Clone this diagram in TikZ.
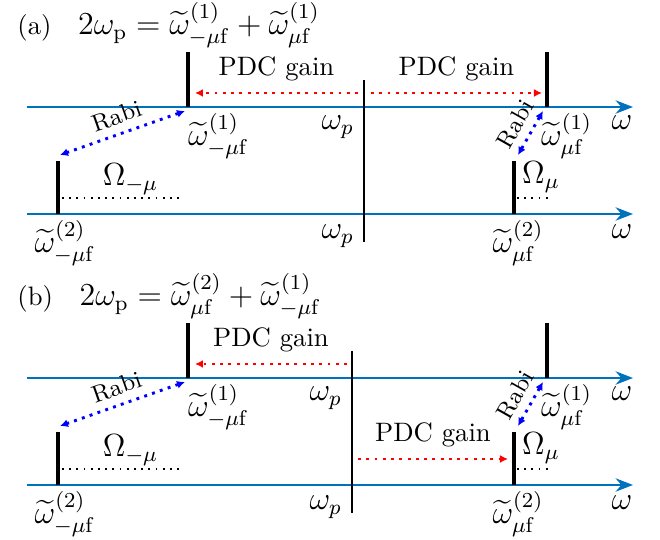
\documentclass[tikz,border=0pt]{standalone}
\usepackage{amsmath,amssymb}
\usepackage{tikz}
\usetikzlibrary{arrows.meta,positioning}
\definecolor{axisblue}{HTML}{0072BD}
\definecolor{gainred}{HTML}{FF0000}
\definecolor{rabiblue}{HTML}{0000FF}

% dressed frequency labels
\newcommand{\wfreq}[2]{\widetilde{\omega}^{(#1)}_{#2\mu\mathrm{f}}}

\begin{document}
\begin{tikzpicture}[
  x=0.375pt, y=-0.375pt,
  axis/.style={-{Stealth[length=6.5pt,width=5pt]},line width=0.8pt,axisblue},
  bar/.style={line width=1.4pt,black},
  pump/.style={line width=0.8pt,black},
  gain/.style={-{Latex[length=3pt,width=3pt]},dotted,line width=1.1pt,gainred},
  rabi/.style={{Latex[length=3pt,width=3pt]}-{Latex[length=3pt,width=3pt]},dotted,line width=1.1pt,rabiblue},
  split/.style={dotted,line width=0.7pt,black},
  lbl/.style={inner sep=1pt,text=black},
  mlbl/.style={lbl,font=\large}
]
\useasboundingbox (0,0) rectangle (660,540);

% parts that both panels share
\foreach \p/\dy/\px in {a/0/364,b/271/352}{
  \begin{scope}[shift={(0,\dy)}]
    \coordinate (\p-t0) at (27,107);
    \coordinate (\p-t1) at (633,107);
    \coordinate (\p-b0) at (27,214);
    \coordinate (\p-b1) at (633,214);
    \draw[axis] (\p-t0) -- (\p-t1);
    \draw[axis] (\p-b0) -- (\p-b1);
    \node[mlbl] (\p-wt) at (622,123) {$\omega$};
    \node[mlbl] (\p-wb) at (622,232) {$\omega$};
    % resonances
    \coordinate (\p-tl) at (188,107);
    \coordinate (\p-tr) at (547,107);
    \coordinate (\p-bl) at (58,214);
    \coordinate (\p-br) at (514,214);
    \draw[bar] (\p-tl) -- ++(0,-55);
    \draw[bar] (\p-tr) -- ++(0,-55);
    \draw[bar] (\p-bl) -- ++(0,-53);
    \draw[bar] (\p-br) -- ++(0,-53);
    \node[mlbl,anchor=north west] (\p-ltl) at (185,110) {$\wfreq{1}{-}$};
    \node[mlbl,anchor=north west] (\p-ltr) at (538,110) {$\wfreq{1}{}$};
    \node[mlbl,anchor=north] (\p-lbl) at (65,217) {$\wfreq{2}{-}$};
    \node[mlbl,anchor=north] (\p-lbr) at (518,217) {$\wfreq{2}{}$};
    % pump line
    \coordinate (\p-p0) at (\px,80);
    \coordinate (\p-p1) at (\px,242);
    \draw[pump] (\p-p0) -- (\p-p1);
    \node[mlbl,anchor=north east] (\p-wpt) at (\px-7,113) {$\omega_p$};
    \node[mlbl,anchor=north east] (\p-wpb) at (\px-7,222) {$\omega_p$};
    % Rabi coupling
    \coordinate (\p-r0) at (185,111);
    \coordinate (\p-r1) at (60,155);
    \coordinate (\p-r2) at (543,111);
    \coordinate (\p-r3) at (518,155);
    \draw[rabi] (\p-r0) -- node[sloped,above=2pt,lbl,font=\small] {Rabi} (\p-r1);
    \draw[rabi] (\p-r2) -- node[sloped,above=2pt,lbl,font=\small] {Rabi} (\p-r3);
    % splittings
    \coordinate (\p-s0) at (62,198);
    \coordinate (\p-s1) at (183,198);
    \coordinate (\p-s2) at (517,198);
    \coordinate (\p-s3) at (549,198);
    \draw[split] (\p-s0) -- node[above,mlbl,xshift=3pt] {$\Omega_{-\mu}$} (\p-s1);
    \draw[split] (\p-s2) -- (\p-s3);
    \node[mlbl,anchor=south west] (\p-om) at (519,196) {$\Omega_{\mu}$};
  \end{scope}
}

% panel (a)
\node[anchor=west] (ta) at (8,25) {(a)\quad\large$2\omega_{\mathrm{p}}=\wfreq{1}{-}+\wfreq{1}{}$};
\coordinate (ga0) at (358,93);
\coordinate (ga1) at (195,93);
\coordinate (ga2) at (371,93);
\coordinate (ga3) at (542,93);
\draw[gain] (ga0) -- node[above=3pt,lbl] {PDC gain} (ga1);
\draw[gain] (ga2) -- node[above=3pt,lbl] {PDC gain} (ga3);

% panel (b)
\node[anchor=west] (tb) at (8,296) {(b)\quad\large$2\omega_{\mathrm{p}}=\wfreq{2}{}+\wfreq{1}{-}$};
\coordinate (gb0) at (347,364);
\coordinate (gb1) at (195,364);
\coordinate (gb2) at (358,459);
\coordinate (gb3) at (508,459);
\draw[gain] (gb0) -- node[above=3pt,lbl] {PDC gain} (gb1);
\draw[gain] (gb2) -- node[above=3pt,lbl] {PDC gain} (gb3);
\end{tikzpicture}
\end{document}
